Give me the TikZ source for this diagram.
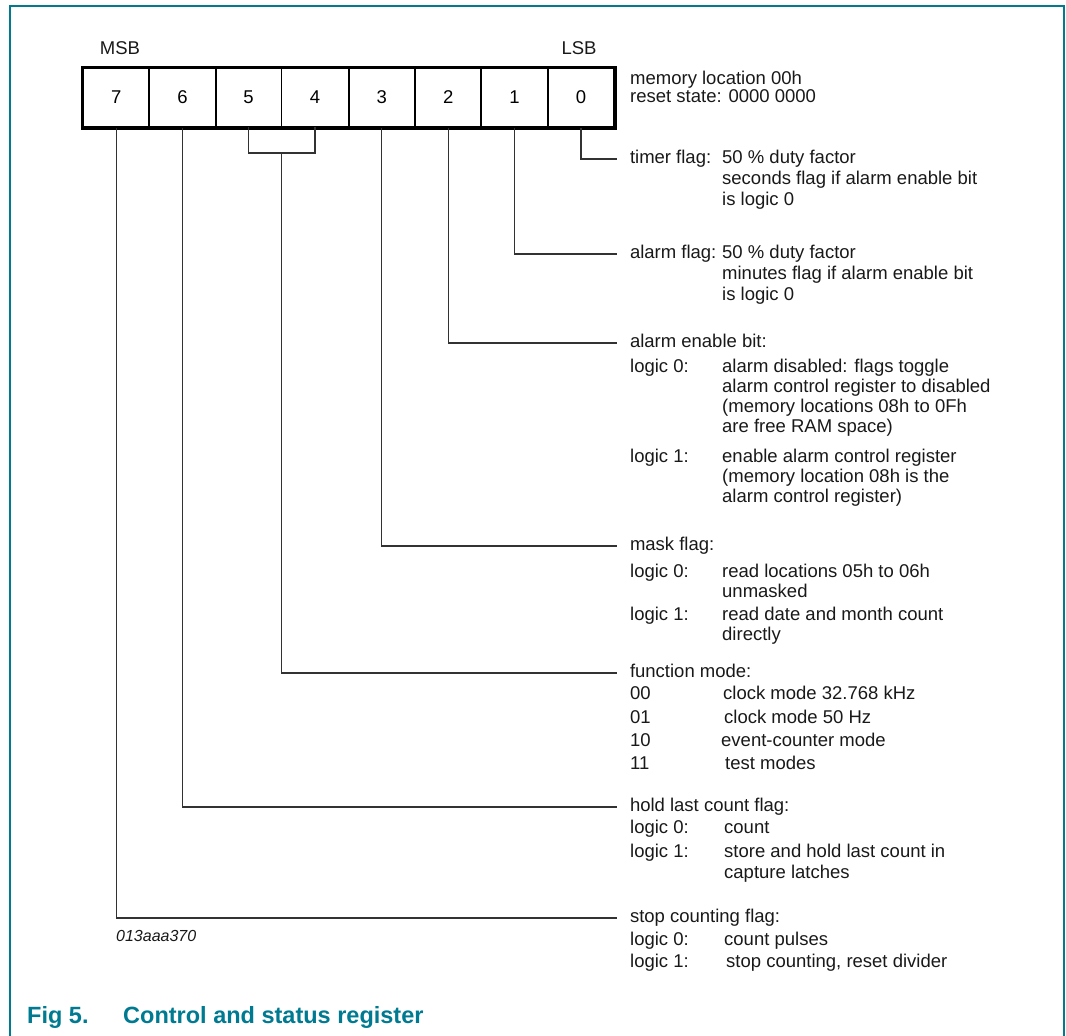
\documentclass[tikz,border=0pt]{standalone}
\usepackage{fontspec}
\setmainfont{Liberation Sans}
\definecolor{nxpteal}{RGB}{0,122,145}
\definecolor{linegray}{RGB}{50,50,50}
\begin{document}
\begin{tikzpicture}[x=1pt,y=-1pt,
  body/.style={font=\fontsize{18.5}{20}\selectfont, inner sep=0pt, text height=13pt, text depth=4pt, anchor=west, text=black!90},
  head/.style={body, outer xsep=13pt},
  cell/.style={draw, line width=2pt, minimum width=66.4pt, minimum height=59pt, inner sep=0pt, anchor=north west, font=\fontsize{18.5}{20}\selectfont},
  thincell/.style={cell, line width=1pt},
  conn/.style={draw=linegray, line width=1.2pt},
  frame/.style={draw=nxpteal, line width=2pt},
  caption/.style={font=\fontsize{23.5}{26}\selectfont\bfseries, text=nxpteal, inner sep=0pt, anchor=west, text height=17pt, text depth=5pt}
]
\useasboundingbox (0,0) rectangle (1066,1036);
% frame
\draw[frame] (10,1036) -- (10,6) -- (1064,6) -- (1064,1036);

% register cells
\node[thincell] (c5) at (214.8,67) {5};
\node[thincell] (c4) at (281.2,67) {4};
\node[cell] (c7) at (82,67) {7};
\node[cell] (c6) at (148.4,67) {6};
\node[cell] (c3) at (347.6,67) {3};
\node[cell] (c2) at (414,67) {2};
\node[cell] (c1) at (480.4,67) {1};
\node[cell] (c0) at (546.8,67) {0};
\draw[line width=3pt] (c7.north west) rectangle (c0.south east);

\node[body, anchor=center] (msb) at (120,50) {MSB};
\node[body, anchor=center] (lsb) at (579,50) {LSB};
\node[body] (mem1) at (630,80) {memory location 00h};
\node[body] (mem2) at (630,98) {reset state: 0000 0000};

% bit 0
\node[head] (tf) at (617,159) {timer flag:};
\node[body] (tf1) at (722,159) {50 \% duty factor};
\node[body] (tf2) at (722,180) {seconds flag if alarm enable bit};
\node[body] (tf3) at (722,201) {is logic 0};
\draw[conn] (c0.south) |- (tf.west);

% bit 1
\node[head] (af) at (617,254) {alarm flag:};
\node[body] (af1) at (722,254) {50 \% duty factor};
\node[body] (af2) at (722,275) {minutes flag if alarm enable bit};
\node[body] (af3) at (722,296) {is logic 0};
\draw[conn] (c1.south) |- (af.west);

% bit 2
\node[head] (ae) at (617,343) {alarm enable bit:};
\node[body] (ae0) at (630,368) {logic 0:};
\node[body] (ae1) at (722,368) {alarm disabled: flags toggle};
\node[body] (ae2) at (722,388) {alarm control register to disabled};
\node[body] (ae3) at (722,408) {(memory locations 08h to 0Fh};
\node[body] (ae4) at (722,428) {are free RAM space)};
\node[body] (ae5) at (630,458) {logic 1:};
\node[body] (ae6) at (722,458) {enable alarm control register};
\node[body] (ae7) at (722,478) {(memory location 08h is the};
\node[body] (ae8) at (722,498) {alarm control register)};
\draw[conn] (c2.south) |- (ae.west);

% bit 3
\node[head] (mf) at (617,546) {mask flag:};
\node[body] (mf0) at (630,573) {logic 0:};
\node[body] (mf1) at (722,573) {read locations 05h to 06h};
\node[body] (mf2) at (722,593) {unmasked};
\node[body] (mf3) at (630,616) {logic 1:};
\node[body] (mf4) at (722,616) {read date and month count};
\node[body] (mf5) at (722,636) {directly};
\draw[conn] (c3.south) |- (mf.west);

% bits 5 and 4
\node[head] (fm) at (617,673) {function mode:};
\node[body] (fm0) at (630,695) {00};
\node[body] (fm1) at (723,695) {clock mode 32.768 kHz};
\node[body] (fm2) at (630,719) {01};
\node[body] (fm3) at (724,719) {clock mode 50 Hz};
\node[body] (fm4) at (630,742) {10};
\node[body] (fm5) at (721,742) {event-counter mode};
\node[body] (fm6) at (630,765) {11};
\node[body] (fm7) at (725,765) {test modes};
\draw[conn] (c5.south) -- ++(0,26) -| (c4.south);
\path (c5.south) ++(33.2,26) coordinate (bm);
\draw[conn] (bm) |- (fm.west);

% bit 6
\node[head] (hl) at (617,807) {hold last count flag:};
\node[body] (hl0) at (630,829) {logic 0:};
\node[body] (hl1) at (724,829) {count};
\node[body] (hl2) at (630,853) {logic 1:};
\node[body] (hl3) at (724,853) {store and hold last count in};
\node[body] (hl4) at (724,874) {capture latches};
\draw[conn] (c6.south) |- (hl.west);

% bit 7
\node[head] (sc) at (617,918) {stop counting flag:};
\node[body] (sc0) at (630,941) {logic 0:};
\node[body] (sc1) at (724,941) {count pulses};
\node[body] (sc2) at (630,963) {logic 1:};
\node[body] (sc3) at (726,963) {stop counting, reset divider};
\draw[conn] (c7.south) |- (sc.west);

\node[body, font=\fontsize{16}{18}\selectfont\itshape] (code) at (116,937) {013aaa370};

% caption
\node[caption] (fig) at (27,1017) {Fig 5.};
\node[caption] (cap) at (123,1017) {Control and status register};
\end{tikzpicture}
\end{document}
